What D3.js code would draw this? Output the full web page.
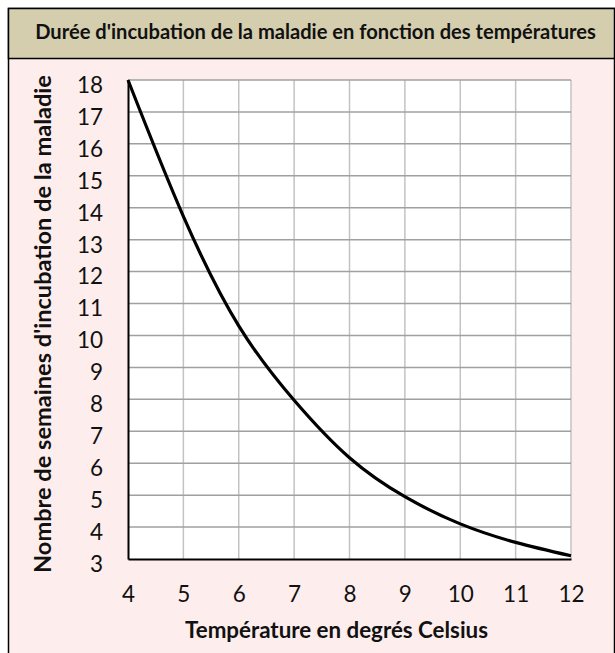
<!DOCTYPE html>
<html>
<head>
<meta charset="utf-8">
<script src="https://cdn.jsdelivr.net/npm/d3@7"></script>
<style>
  html, body { margin: 0; padding: 0; background: #fff; }
  svg { display: block; font-family: Lato, "Open Sans", sans-serif; }
</style>
</head>
<body>
<svg id="chart" width="615" height="653"></svg>
<script>
// values
const temperatures = [4, 5, 6, 7, 8, 9, 10, 11, 12];
const weeks = [18, 13.73, 10.3, 7.97, 6.17, 4.95, 4.1, 3.52, 3.1];
const xTicks = [4, 5, 6, 7, 8, 9, 10, 11, 12];
const yTicks = d3.range(3, 19);

const title = "Durée d'incubation de la maladie en fonction des températures";
const xTitle = 'Température en degrés Celsius';
const yTitle = "Nombre de semaines d'incubation de la maladie";

const width = 615;
const height = 653;
const plot = { left: 128, right: 571, top: 80, bottom: 559 };

const svg = d3.select('#chart');

// shrink/grow a label until it spans the wanted width
function fit(sel, target, start) {
  sel.attr('font-size', start);
  const w = sel.node().getComputedTextLength();
  sel.attr('font-size', (start * target / w).toFixed(2));
}

// frame and header band
svg.append('rect')
  .attr('x', 8.5).attr('y', 8.5)
  .attr('width', width - 9).attr('height', height)
  .attr('fill', '#fdeeed')
  .attr('stroke', '#000').attr('stroke-width', 1.5);

svg.append('rect')
  .attr('x', 8.5).attr('y', 8.5)
  .attr('width', width - 9).attr('height', 50)
  .attr('fill', '#d5ceae')
  .attr('stroke', '#000').attr('stroke-width', 1.5);

const titleText = svg.append('text')
  .attr('x', 315.5).attr('y', 39)
  .attr('text-anchor', 'middle')
  .attr('font-weight', 'bold')
  .attr('fill', '#111')
  .text(title);
fit(titleText, 561, 15);

const x = d3.scaleLinear().domain([4, 12]).range([plot.left, plot.right]);
const y = d3.scaleLinear().domain([3, 18]).range([plot.bottom, plot.top]);

svg.append('rect')
  .attr('x', plot.left).attr('y', plot.top)
  .attr('width', plot.right - plot.left).attr('height', plot.bottom - plot.top)
  .attr('fill', '#fff');

// grid
svg.append('g')
  .selectAll('line')
  .data(xTicks.slice(1))
  .join('line')
  .attr('x1', (d) => x(d)).attr('x2', (d) => x(d))
  .attr('y1', plot.top).attr('y2', plot.bottom)
  .attr('stroke', '#c3c3c3')
  .attr('stroke-width', 1.5);

svg.append('g')
  .selectAll('line')
  .data(yTicks.slice(1))
  .join('line')
  .attr('x1', plot.left).attr('x2', plot.right)
  .attr('y1', (d) => y(d)).attr('y2', (d) => y(d))
  .attr('stroke', '#a0a0a0')
  .attr('stroke-width', 1.5);

// axes
const xAxis = svg.append('g')
  .attr('transform', `translate(0,${plot.bottom})`)
  .call(d3.axisBottom(x).tickValues(xTicks).tickSize(0).tickPadding(28));
xAxis.select('.domain').attr('stroke', '#000').attr('stroke-width', 2);
xAxis.selectAll('text').attr('font-size', 22.5).attr('fill', '#111')
  .attr('font-family', 'Lato, sans-serif')
  .attr('dy', '0.66em');

const yAxis = svg.append('g')
  .attr('transform', `translate(${plot.left},0)`)
  .call(d3.axisLeft(y).tickValues(yTicks).tickSize(0).tickPadding(25));
yAxis.select('.domain').attr('stroke', '#000').attr('stroke-width', 2);
yAxis.selectAll('text').attr('font-size', 22.5).attr('fill', '#111')
  .attr('font-family', 'Lato, sans-serif')
  .attr('dy', '0.55em');

// curve
const line = d3.line()
  .x((d, i) => x(temperatures[i]))
  .y((d) => y(d))
  .curve(d3.curveNatural);

svg.append('path')
  .datum(weeks)
  .attr('d', line)
  .attr('fill', 'none')
  .attr('stroke', '#000')
  .attr('stroke-width', 3.2);

// axis titles
const xTitleText = svg.append('text')
  .attr('x', 336.5).attr('y', 638)
  .attr('text-anchor', 'middle')
  .attr('font-weight', 'bold')
  .attr('fill', '#111')
  .text(xTitle);
fit(xTitleText, 303, 17);

const yTitleText = svg.append('text')
  .attr('transform', 'translate(51,324) rotate(-90)')
  .attr('text-anchor', 'middle')
  .attr('font-weight', 'bold')
  .attr('fill', '#111')
  .text(yTitle);
fit(yTitleText, 498, 17);
</script>
</body>
</html>
